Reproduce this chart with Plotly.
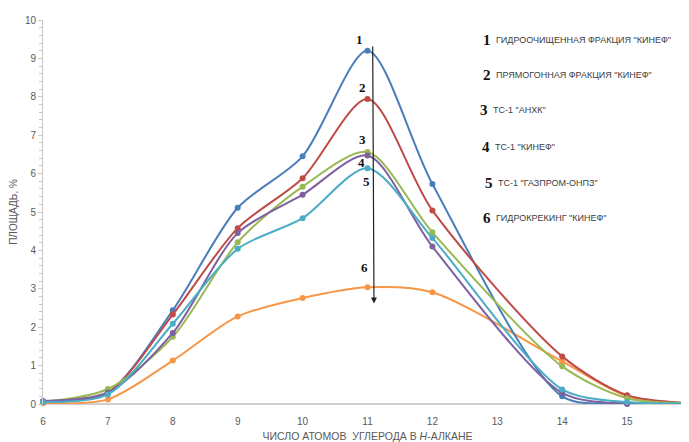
import plotly.graph_objects as go

carbon = [6, 7, 8, 9, 10, 11, 12, 14, 15, 16]
s1 = [0.05, 0.30, 2.44, 5.11, 6.45, 9.20, 5.73, 0.20, 0.02, 0.0]
s2 = [0.05, 0.30, 2.33, 4.58, 5.88, 7.94, 5.04, 1.24, 0.23, 0.02]
s3 = [0.05, 0.39, 1.75, 4.21, 5.66, 6.56, 4.47, 0.98, 0.15, 0.02]
s4 = [0.08, 0.30, 1.85, 4.45, 5.45, 6.47, 4.10, 0.29, 0.00, 0.0]
s5 = [0.05, 0.25, 2.09, 4.04, 4.84, 6.14, 4.32, 0.38, 0.05, 0.02]
s6 = [0.02, 0.12, 1.13, 2.28, 2.76, 3.04, 2.91, 1.11, 0.20, 0.02]
series = [s1, s2, s3, s4, s5, s6]
colors = ["#4a7ebb", "#be4b48", "#98b954", "#7d60a0", "#4aacc5", "#f79646"]
legend_names = ['ГИДРООЧИЩЕННАЯ ФРАКЦИЯ "КИНЕФ"', 'ПРЯМОГОННАЯ ФРАКЦИЯ "КИНЕФ"',
                'ТС-1 "АНХК"', 'ТС-1 "КИНЕФ"', 'ТС-1 "ГАЗПРОМ-ОНПЗ"', 'ГИДРОКРЕКИНГ "КИНЕФ"']
x_ticks = [6, 7, 8, 9, 10, 11, 12, 13, 14, 15, 16]
y_ticks = list(range(0, 11))

# page body has an 8px margin; offsets compensate so the plot sits where the reference has it
PL, PT, PW, PH = 43, 20, 649, 384

fig = go.Figure()
order = [5, 0, 1, 2, 3, 4]
for i in order:
    fig.add_trace(go.Scatter(x=carbon, y=series[i], mode="lines+markers",
                             line=dict(color=colors[i], width=2, shape="spline", smoothing=0.8),
                             marker=dict(color=colors[i], size=6),
                             showlegend=False, cliponaxis=False))

# peak labels
peak_labels = [("1", 10.87, 9.5), ("2", 10.93, 8.25), ("3", 10.93, 6.9), ("4", 10.9, 6.3),
               ("5", 10.98, 5.8), ("6", 10.95, 3.55)]
for t, xx, yy in peak_labels:
    fig.add_annotation(x=xx, y=yy, text=f"<b>{t}</b>", showarrow=False,
                       font=dict(family="Liberation Serif, Times New Roman, serif", size=13, color="#111"))

# arrow
fig.add_annotation(x=11.1, y=2.62, ax=11.08, ay=9.35, xref="x", yref="y", axref="x", ayref="y",
                   showarrow=True, arrowhead=2, arrowsize=1, arrowwidth=1.2, arrowcolor="#222", text="")

# legend as text
ys_leg = [40, 75, 110, 147, 183, 218]
xnum = [487, 487, 484, 486, 489, 487]
for k in range(6):
    fig.add_annotation(xref="paper", yref="paper", x=(xnum[k] - PL) / PW, y=1 - (ys_leg[k] - PT) / PH,
                       text=f"<b>{k+1}</b>", showarrow=False, xanchor="center", yanchor="middle",
                       font=dict(family="Liberation Serif, Times New Roman, serif", size=15, color="#111"))
    fig.add_annotation(xref="paper", yref="paper", x=(xnum[k] + 7 - PL) / PW, y=1 - (ys_leg[k] - PT) / PH,
                       text=legend_names[k], showarrow=False, xanchor="left", yanchor="middle",
                       font=dict(family="Liberation Sans, Arial", size=9, color="#404040"))

fig.update_layout(
    width=684, height=434, margin=dict(l=35, r=0, t=12, b=38, autoexpand=False),
    plot_bgcolor="white", paper_bgcolor="white",
    font=dict(family="Liberation Sans, Arial", color="#595959", size=10),
)
fig.update_xaxes(range=[6, 16], tickvals=x_ticks, showgrid=False, zeroline=False, automargin=False,
                 showline=False, ticks="outside", ticklen=8, tickcolor="rgba(0,0,0,0)",
                 tickfont=dict(size=10, color="#595959"),
                 title=dict(text="ЧИСЛО АТОМОВ  УГЛЕРОДА В <i>Н</i>-АЛКАНЕ", standoff=10,
                            font=dict(size=10.5, color="#595959")))
fig.update_yaxes(range=[0, 10], tickvals=y_ticks, showgrid=False, zeroline=True, zerolinecolor="#d0d0d0",
                 zerolinewidth=1.5, showline=True, linecolor="#c8c8c8", linewidth=1, automargin=False,
                 ticks="outside", ticklen=4, tickcolor="#c8c8c8",
                 minor=dict(dtick=0.2, ticks="outside", ticklen=3, tickcolor="#c8c8c8"),
                 tickfont=dict(size=10, color="#595959"),
                 title=dict(text="ПЛОЩАДЬ, %", standoff=10, font=dict(size=10, color="#595959")))

fig.write_html("out.html")
